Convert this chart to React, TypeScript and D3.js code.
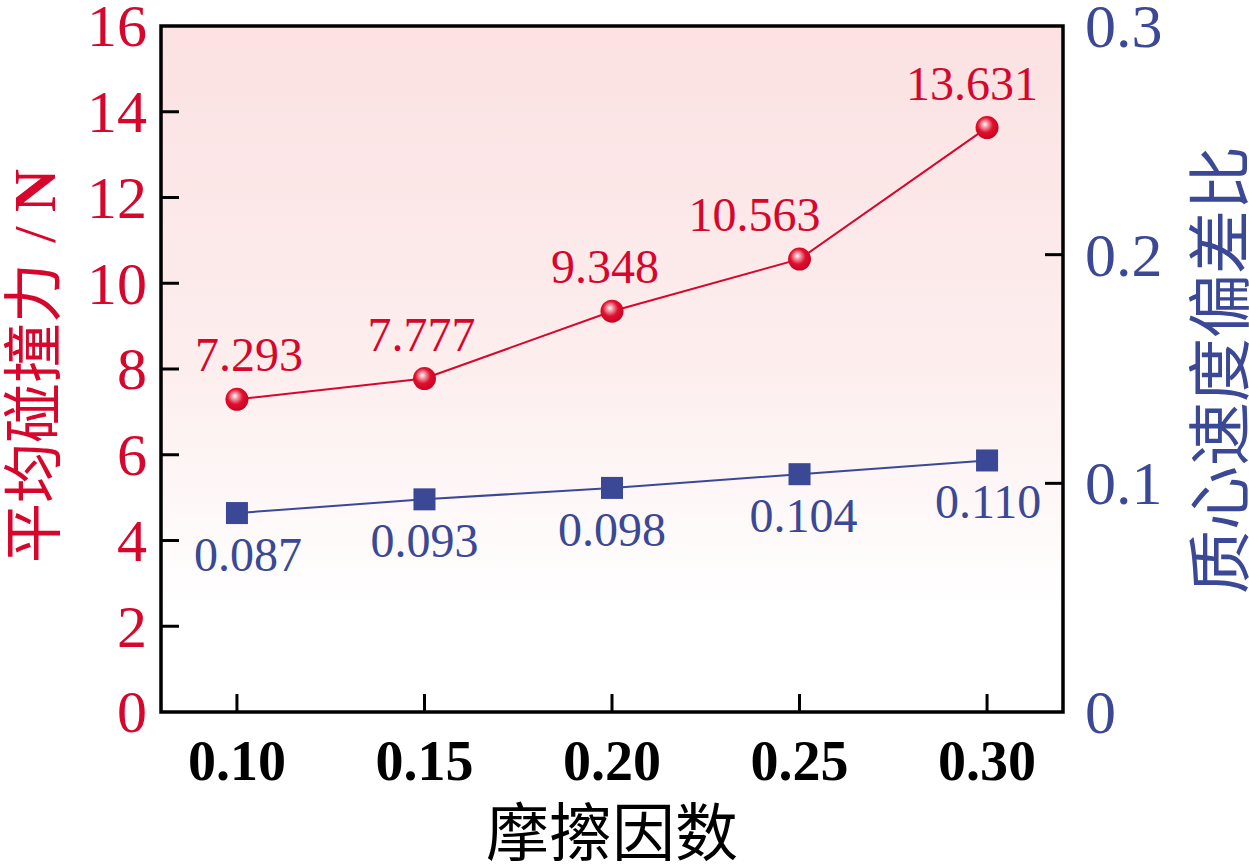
import { useEffect, useRef } from 'react';
import * as d3 from 'd3';

const friction = ['0.10', '0.15', '0.20', '0.25', '0.30'];
const impactForce = [7.293, 7.777, 9.348, 10.563, 13.631];
const speedRatio = [0.087, 0.093, 0.098, 0.104, 0.11];
const forceLabels = ['7.293', '7.777', '9.348', '10.563', '13.631'];
const ratioLabels = ['0.087', '0.093', '0.098', '0.104', '0.110'];
const leftTicks = [0, 2, 4, 6, 8, 10, 12, 14, 16];
const rightTicks = [0, 0.1, 0.2, 0.3];
// small horizontal nudges for the value labels, as placed in the source figure
const forceLabelDx = [12, -3, -7, -45, -15];
const ratioLabelDx = [11, 0, 0, 4, 1];

const RED = '#d7062c';
const BLUE = '#3a4896';
const SERIF = '"Liberation Serif", "Times New Roman", serif';
const CJK = '"Noto Sans CJK SC", sans-serif';

export default function App() {
  const ref = useRef<SVGSVGElement>(null);

  useEffect(() => {
    const el = ref.current;
    if (!el) return;
    const svg = d3.select(el);
    svg.selectAll('*').remove();

    const left = 161, right = 1063, top = 26, bottom = 712;

    const x = d3.scalePoint<string>().domain(friction).range([left, right]).padding(0.405);
    const yL = d3.scaleLinear().domain([0, 16]).range([bottom, top]);
    const yR = d3.scaleLinear().domain([0, 0.3]).range([bottom, top]);

    const defs = svg.append('defs');
    const bg = defs.append('linearGradient').attr('id', 'bg-grad')
      .attr('x1', 0).attr('y1', 0).attr('x2', 0).attr('y2', 1);
    bg.append('stop').attr('offset', '0%').attr('stop-color', '#fbe1e2');
    bg.append('stop').attr('offset', '50%').attr('stop-color', '#fdeeee');
    bg.append('stop').attr('offset', '85%').attr('stop-color', '#ffffff');

    const ball = defs.append('radialGradient').attr('id', 'ball-grad')
      .attr('cx', '45%').attr('cy', '42%').attr('r', '60%').attr('fx', '40%').attr('fy', '35%');
    ball.append('stop').attr('offset', '0%').attr('stop-color', '#ffffff');
    ball.append('stop').attr('offset', '22%').attr('stop-color', '#f39aa6');
    ball.append('stop').attr('offset', '55%').attr('stop-color', '#e0102f');
    ball.append('stop').attr('offset', '100%').attr('stop-color', '#c8001f');

    // plot background
    svg.append('rect')
      .attr('x', left).attr('y', top)
      .attr('width', right - left).attr('height', bottom - top)
      .attr('fill', 'url(#bg-grad)');

    // inward ticks
    const tickLen = 18;
    const ticks = svg.append('g').attr('stroke', '#000').attr('stroke-width', 3);
    leftTicks.filter(d => d > 0 && d < 16).forEach(d => {
      ticks.append('line').attr('x1', left).attr('x2', left + tickLen).attr('y1', yL(d)).attr('y2', yL(d));
    });
    rightTicks.filter(d => d > 0 && d < 0.3).forEach(d => {
      ticks.append('line').attr('x1', right).attr('x2', right - tickLen).attr('y1', yR(d)).attr('y2', yR(d));
    });
    friction.forEach(d => {
      ticks.append('line').attr('x1', x(d)!).attr('x2', x(d)!).attr('y1', bottom).attr('y2', bottom - tickLen);
    });

    // frame
    svg.append('rect')
      .attr('x', left).attr('y', top)
      .attr('width', right - left).attr('height', bottom - top)
      .attr('fill', 'none').attr('stroke', '#000').attr('stroke-width', 3.5);

    // left tick labels
    svg.append('g').selectAll('text').data(leftTicks).join('text')
      .attr('x', left - 14).attr('y', d => yL(d))
      .attr('dy', '0.34em')
      .attr('text-anchor', 'end')
      .attr('font-family', SERIF).attr('font-size', 60).attr('fill', RED)
      .text(d => d);

    // right tick labels
    svg.append('g').selectAll('text').data(rightTicks).join('text')
      .attr('x', right + 22).attr('y', d => yR(d))
      .attr('dy', '0.34em')
      .attr('font-family', SERIF).attr('font-size', 62).attr('fill', BLUE)
      .text(d => (d === 0 ? '0' : d.toFixed(1)));

    // bottom tick labels
    svg.append('g').selectAll('text').data(friction).join('text')
      .attr('x', d => x(d)!).attr('y', 780)
      .attr('text-anchor', 'middle')
      .attr('font-family', SERIF).attr('font-weight', 'bold').attr('font-size', 56).attr('fill', '#000')
      .text(d => d);

    // axis titles
    svg.append('text')
      .attr('x', (left + right) / 2).attr('y', 855)
      .attr('text-anchor', 'middle')
      .attr('font-family', CJK).attr('font-size', 63).attr('fill', '#000')
      .text('摩擦因数');

    const lt = svg.append('text')
      .attr('transform', `translate(55, 366) rotate(-90)`)
      .attr('text-anchor', 'middle')
      .attr('fill', RED);
    lt.append('tspan').attr('font-family', CJK).attr('font-size', 60).text('平均碰撞力');
    lt.append('tspan').attr('font-family', SERIF).attr('font-size', 60).attr('dx', 20).text('/');
    lt.append('tspan').attr('font-family', SERIF).attr('font-weight', 'bold').attr('font-size', 60).attr('dx', 14).text('N');

    svg.append('text')
      .attr('transform', `translate(1243, ${(top + bottom) / 2 + 1}) rotate(-90)`)
      .attr('text-anchor', 'middle')
      .attr('font-family', CJK).attr('font-size', 64).attr('fill', BLUE)
      .text('质心速度偏差比');

    // force line
    const lineL = d3.line<number>().x((_, i) => x(friction[i])!).y(d => yL(d));
    svg.append('path').datum(impactForce)
      .attr('d', lineL).attr('fill', 'none').attr('stroke', RED).attr('stroke-width', 2);

    svg.append('g').selectAll('circle').data(impactForce).join('circle')
      .attr('cx', (_, i) => x(friction[i])!).attr('cy', d => yL(d))
      .attr('r', 11.5).attr('fill', 'url(#ball-grad)');

    svg.append('g').selectAll('text').data(impactForce).join('text')
      .attr('x', (_, i) => x(friction[i])! + forceLabelDx[i]).attr('y', d => yL(d) - 28)
      .attr('text-anchor', 'middle')
      .attr('font-family', SERIF).attr('font-size', 48).attr('fill', RED)
      .text((_, i) => forceLabels[i]);

    // ratio line
    const lineR = d3.line<number>().x((_, i) => x(friction[i])!).y(d => yR(d));
    svg.append('path').datum(speedRatio)
      .attr('d', lineR).attr('fill', 'none').attr('stroke', BLUE).attr('stroke-width', 2);

    const sq = 22;
    svg.append('g').selectAll('rect').data(speedRatio).join('rect')
      .attr('x', (_, i) => x(friction[i])! - sq / 2).attr('y', d => yR(d) - sq / 2)
      .attr('width', sq).attr('height', sq).attr('fill', BLUE);

    svg.append('g').selectAll('text').data(speedRatio).join('text')
      .attr('x', (_, i) => x(friction[i])! + ratioLabelDx[i]).attr('y', d => yR(d) + 58)
      .attr('text-anchor', 'middle')
      .attr('font-family', SERIF).attr('font-size', 48).attr('fill', BLUE)
      .text((_, i) => ratioLabels[i]);
  }, []);

  return (
    <svg
      ref={ref}
      width={1249}
      height={865}
      viewBox="0 0 1249 865"
      style={{ position: 'absolute', left: 0, top: 0, background: '#fff' }}
    />
  );
}
